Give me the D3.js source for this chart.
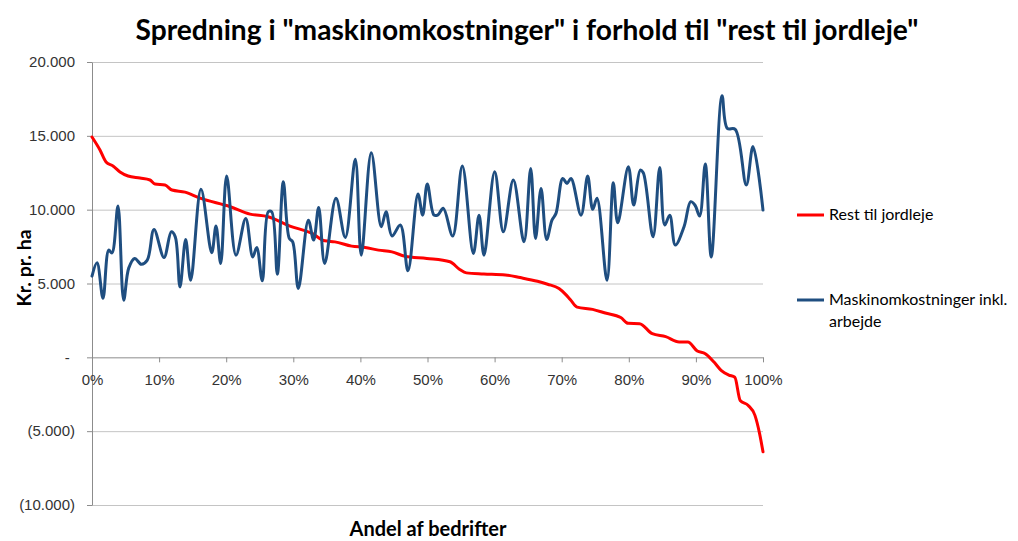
<!DOCTYPE html>
<html>
<head>
<meta charset="utf-8">
<script src="https://cdnjs.cloudflare.com/ajax/libs/d3/7.8.5/d3.min.js"></script>
<style>
  body { margin: 0; background: #fff; }
  svg { font-family: Lato, "Open Sans", sans-serif; }
  .grid line { stroke: #c4c4c4; stroke-width: 1; }
  .grid path { display: none; }
  .axis path, .axis line { stroke: #8c8c8c; }
  .axis text { fill: #333; font-size: 15px; }
  .line { fill: none; stroke-width: 3; stroke-linejoin: round; stroke-linecap: round; }
</style>
</head>
<body>
<div id="chart"></div>
<script>
// Tick values
var yTicks = [20000, 15000, 10000, 5000, 0, -5000, -10000];
var xTicks = [0, 10, 20, 30, 40, 50, 60, 70, 80, 90, 100];

// Rest til jordleje (sorted, falling)
var restShare = [0, 1.19, 2.09, 3.13, 4.17, 5.37, 7.15, 8.64, 9.39, 10.88, 11.92, 13.86, 16.1, 20.6, 23.55,
  26.23, 29.5, 32.8, 34.7, 36.2, 38.7, 40.7, 42.7, 44.7, 46.65, 49.9, 53.35, 54.8, 55.8, 58.4, 61.6, 63.8,
  66.4, 67.9, 69.6, 70.5, 71.3, 72.3, 74.6, 76.5, 78.8, 79.9, 81.6, 83.5, 85.5, 87.5, 88.8, 90.2, 91.4,
  92.7, 93.8, 94.9, 95.8, 96.6, 97.8, 98.8, 99.5, 100];
var restValue = [14920, 14040, 13230, 12960, 12550, 12280, 12140, 12010, 11740, 11670, 11330, 11190, 10780, 10200, 9700,
  9520, 8890, 8390, 7890, 7820, 7530, 7440, 7260, 7140, 6850, 6700, 6470, 5950, 5720, 5650, 5580, 5400,
  5150, 4950, 4660, 4300, 3900, 3400, 3250, 3000, 2700, 2300, 2280, 1600, 1400, 1040, 1040, 430, 250,
  -320, -900, -1200, -1350, -2920, -3260, -3930, -5180, -6400];

// Maskinomkostninger inkl. arbejde
var maskShare = [0, 0.75, 1.64, 2.49, 2.98, 3.87, 4.72, 5.47, 6.36, 7.35, 8.24, 9.24, 10.73, 11.82, 12.41, 13.11,
  13.96, 14.71, 16.24, 17.84, 18.48, 19.18, 20.07, 21.46, 22.91, 23.95, 24.55, 25.38, 26.27, 26.78, 27.62,
  28.51, 29.4, 29.91, 30.75, 32.24, 33.03, 33.78, 34.68, 36.36, 37.75, 39.24, 40.13, 41.62, 43.11, 43.82,
  44.71, 45.95, 47.09, 48.58, 49.28, 49.97, 50.97, 51.56, 52.35, 53.76, 55.19, 56.83, 57.68, 58.42, 60.01,
  61.3, 62.79, 64.38, 65.38, 66.1, 66.92, 67.76, 68.55, 69.15, 70.15, 70.79, 71.39, 72.88, 73.87, 74.62,
  75.26, 76.75, 77.69, 78.35, 79.93, 80.73, 81.71, 82.16, 83.61, 84.61, 85.35, 86.1, 86.93, 88.23, 89.22,
  89.87, 90.56, 91.4, 92.29, 93.89, 94.68, 95.86, 97.51, 98.51, 100];
var maskValue = [5500, 6400, 4000, 7260, 7070, 10250, 3870, 6040, 6700, 6300, 6580, 8660, 6760, 8500, 8160, 4770,
  7980, 5220, 11380, 7080, 8890, 6350, 12280, 6920, 9410, 6800, 7440, 5180, 9860, 9860, 5630,
  11890, 8050, 7820, 4660, 9290, 7940, 10150, 6350, 10770, 8120, 13410, 6920, 13860, 8840, 9860,
  8210, 8960, 5860, 11060, 9630, 11740, 9630, 9650, 10090, 8210, 12960, 7030, 9630, 6920, 12570,
  8500, 12010, 7820, 12790, 8050, 11440, 7980, 9290, 9750, 12110, 11780, 12110, 9630, 12280, 10020,
  10770, 5220, 11830, 9110, 12910, 10310, 12680, 12500, 8160, 12860, 8960, 9630, 7600, 8840, 10540,
  10300, 9570, 13090, 6800, 17710, 15510, 15440, 11670, 14270, 9970];

var seriesNames = ["Rest til jordleje", "Maskinomkostninger inkl.", "arbejde"];
var seriesColors = ["#ff0000", "#1f4e80"];

//Declare margins and plot size
var margin = {top: 62, right: 255, bottom: 36, left: 92},
    width = 1018 - margin.left - margin.right,
    height = 541 - margin.top - margin.bottom;

var svgRoot = d3.select("#chart").append("svg")
    .attr("width", 1018)
    .attr("height", 541)
    .style("background-color", "#fff");

var svg = svgRoot.append("g")
    .attr("transform", "translate(" + margin.left + "," + margin.top + ")");

// set the ranges
var x = d3.scaleLinear().domain([0, 100]).range([0, width]);
var y = d3.scaleLinear().domain([-10000, 20000]).range([height, 0]);

// number format with dot thousands and brackets for negatives
var num = d3.format(",.0f");
function yFormat(v) {
  if (v === 0) return "-";
  var s = num(Math.abs(v)).replace(/,/g, ".");
  return v < 0 ? "(" + s + ")" : s;
}

//draw y grid
svg.append("g")
    .attr("class", "grid")
    .call(d3.axisLeft(y)
      .tickValues(yTicks.filter(function(d) { return d !== 0; }))
      .tickSize(-width)
      .tickFormat(""));

//draw y axis
var yAxis = svg.append("g")
    .attr("class", "y axis")
    .call(d3.axisLeft(y)
      .tickValues(yTicks)
      .tickSize(5)
      .tickSizeOuter(0)
      .tickPadding(12)
      .tickFormat(yFormat));
yAxis.selectAll(".tick text")
    .filter(function(d) { return d === 0; })
    .attr("dx", "-0.35em");

//draw x axis at zero
svg.append("g")
    .attr("class", "x axis")
    .attr("transform", "translate(0," + y(0) + ")")
    .call(d3.axisBottom(x)
      .tickValues(xTicks)
      .tickSize(5)
      .tickSizeOuter(0)
      .tickPadding(12)
      .tickFormat(function(d) { return d + "%"; }));

// lines
var restLine = d3.line()
    .x(function(d, i) { return x(restShare[i]); })
    .y(function(d) { return y(d); })
    .curve(d3.curveMonotoneX);

var maskLine = d3.line()
    .x(function(d, i) { return x(maskShare[i]); })
    .y(function(d) { return y(d); })
    .curve(d3.curveCatmullRom.alpha(0.5));

svg.append("path")
    .datum(restValue)
    .attr("class", "line")
    .style("stroke", seriesColors[0])
    .attr("d", restLine);

svg.append("path")
    .datum(maskValue)
    .attr("class", "line")
    .style("stroke", seriesColors[1])
    .attr("d", maskLine);

//title
var title = svgRoot.append("text")
    .attr("x", 527)
    .attr("y", 40)
    .attr("text-anchor", "middle")
    .style("font-weight", "bold")
    .style("font-size", "25px")
    .style("fill", "#000")
    .text('Spredning i "maskinomkostninger" i forhold til "rest til jordleje"');
var tw = title.node().getComputedTextLength();
title.style("font-size", (25 * 783 / tw) + "px");

//axis labels
svgRoot.append("text")
    .attr("transform", "translate(31," + 268 + ") rotate(-90)")
    .attr("text-anchor", "middle")
    .style("font-weight", "bold")
    .style("font-size", "19.5px")
    .text("Kr. pr. ha");

svgRoot.append("text")
    .attr("x", 428)
    .attr("y", 536)
    .attr("text-anchor", "middle")
    .style("font-weight", "bold")
    .style("font-size", "20px")
    .text("Andel af bedrifter");

//legend
var legend = svgRoot.append("g").attr("class", "legend");
var legendY = [215, 300];
legendY.forEach(function(ly, i) {
  legend.append("line")
      .attr("x1", 797).attr("x2", 824)
      .attr("y1", ly).attr("y2", ly)
      .style("stroke", seriesColors[i])
      .style("stroke-width", 3);
});
legend.append("text").attr("x", 829).attr("y", 220).style("font-size", "16px").text(seriesNames[0]);
legend.append("text").attr("x", 829).attr("y", 305).style("font-size", "16px").text(seriesNames[1]);
legend.append("text").attr("x", 829).attr("y", 327).style("font-size", "16px").text(seriesNames[2]);
</script>
</body>
</html>
